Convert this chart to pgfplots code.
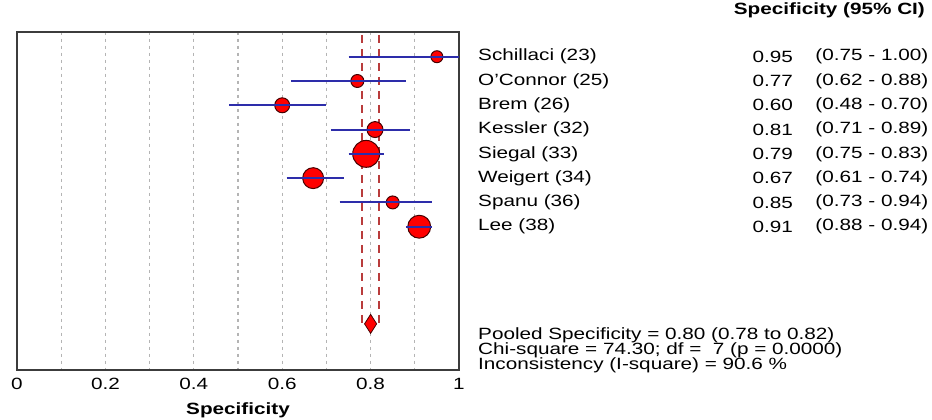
\documentclass[border=0pt]{standalone}
\usepackage{fontspec}
\setmainfont{Liberation Sans}[FakeStretch=1.27]
\setsansfont{Liberation Sans}[FakeStretch=1.27]
\usepackage{pgfplots}
\pgfplotsset{compat=1.18}
\definecolor{ciblue}{RGB}{45,45,170}
\definecolor{mkred}{RGB}{255,0,0}
\definecolor{mkedge}{RGB}{70,0,0}
\definecolor{poolred}{RGB}{185,60,60}
\definecolor{gridgray}{RGB}{180,180,180}
\definecolor{frame}{RGB}{60,60,60}
\newcommand\f{\fontsize{16.3bp}{19bp}\selectfont}
\pgfplotsset{
  study/.style={only marks, mark=*, mark options={fill=mkred, draw=mkedge, line width=1pt}, mark size=#1},
  ci/.style={ciblue, line width=2pt, mark=none},
}
\begin{document}
\begin{tikzpicture}
\useasboundingbox (0,0) rectangle (932bp,420bp);
\begin{axis}[
  clip mode=individual,
  at={(17bp,50bp)}, anchor=south west,
  scale only axis, width=442bp, height=338.3bp,
  xmin=0, xmax=1, ymin=-0.03, ymax=13.9, y dir=reverse,
  axis line style={draw=frame, line width=1.8pt},
  ytick=\empty,
  xtick={0,0.2,0.4,0.6,0.8,1},
  minor xtick={0.1,0.3,0.5,0.7,0.9},
  xmajorgrids, xminorgrids,
  major grid style={draw=gridgray, line width=1.1pt, dash pattern=on 3bp off 4bp},
  minor grid style={draw=gridgray, line width=1.1pt, dash pattern=on 3bp off 4bp},
  major tick length=0pt, minor tick length=0pt,
  /pgf/number format/assume math mode=true,
  xticklabel style={font=\f, yshift=-5bp},
  xlabel={\textbf{Specificity}},
  xlabel style={font=\f, at={(axis description cs:0.5,0)}, anchor=center, yshift=-40bp},
  clip=false,
]
% pooled CI dashed lines
\addplot[poolred, line width=2pt, dash pattern=on 8bp off 6bp, mark=none] coordinates {(0.78,0.1) (0.78,12) (0.7875,12)};
\addplot[poolred, line width=2pt, dash pattern=on 8bp off 6bp, mark=none] coordinates {(0.82,0.1) (0.82,12) (0.8125,12)};
% study markers (point estimates)
\addplot[study=6]    coordinates {(0.95,1)};
\addplot[study=6.5]  coordinates {(0.77,2)};
\addplot[study=7.5]  coordinates {(0.60,3)};
\addplot[study=8]    coordinates {(0.81,4)};
\addplot[study=13.5] coordinates {(0.79,5)};
\addplot[study=10.5] coordinates {(0.67,6)};
\addplot[study=6.5]  coordinates {(0.85,7)};
\addplot[study=11.5] coordinates {(0.91,8)};
% 95% CI lines
\addplot[ci] coordinates {(0.75,1) (1.00,1)};
\addplot[ci] coordinates {(0.62,2) (0.88,2)};
\addplot[ci] coordinates {(0.48,3) (0.70,3)};
\addplot[ci] coordinates {(0.71,4) (0.89,4)};
\addplot[ci] coordinates {(0.75,5) (0.83,5)};
\addplot[ci] coordinates {(0.61,6) (0.74,6)};
\addplot[ci] coordinates {(0.73,7) (0.94,7)};
\addplot[ci] coordinates {(0.88,8) (0.94,8)};
% pooled diamond
\addplot[only marks, mark=diamond*, mark size=9.5bp, mark options={fill=mkred, draw=mkedge, line width=0.8pt, xscale=0.85}]
  coordinates {(0.80,12)};
% text
\node[font=\f\bfseries, anchor=east] at (axis cs:2.062,-0.92) {Specificity (95\% CI)};
\node[font=\f, anchor=west, inner sep=0pt] at (axis cs:1.043,1) {Schillaci (23)};
\node[font=\f, anchor=west, inner sep=0pt] at (axis cs:1.043,2) {O'Connor (25)};
\node[font=\f, anchor=west, inner sep=0pt] at (axis cs:1.043,3) {Brem (26)};
\node[font=\f, anchor=west, inner sep=0pt] at (axis cs:1.043,4) {Kessler (32)};
\node[font=\f, anchor=west, inner sep=0pt] at (axis cs:1.043,5) {Siegal (33)};
\node[font=\f, anchor=west, inner sep=0pt] at (axis cs:1.043,6) {Weigert (34)};
\node[font=\f, anchor=west, inner sep=0pt] at (axis cs:1.043,7) {Spanu (36)};
\node[font=\f, anchor=west, inner sep=0pt] at (axis cs:1.043,8) {Lee (38)};
\node[font=\f, anchor=east, inner sep=0pt] at (axis cs:1.756,1) {0.95};
\node[font=\f, anchor=east, inner sep=0pt] at (axis cs:1.756,2) {0.77};
\node[font=\f, anchor=east, inner sep=0pt] at (axis cs:1.756,3) {0.60};
\node[font=\f, anchor=east, inner sep=0pt] at (axis cs:1.756,4) {0.81};
\node[font=\f, anchor=east, inner sep=0pt] at (axis cs:1.756,5) {0.79};
\node[font=\f, anchor=east, inner sep=0pt] at (axis cs:1.756,6) {0.67};
\node[font=\f, anchor=east, inner sep=0pt] at (axis cs:1.756,7) {0.85};
\node[font=\f, anchor=east, inner sep=0pt] at (axis cs:1.756,8) {0.91};
\node[font=\f, anchor=east, inner sep=0pt] at (axis cs:2.062,1) {(0.75 - 1.00)};
\node[font=\f, anchor=east, inner sep=0pt] at (axis cs:2.062,2) {(0.62 - 0.88)};
\node[font=\f, anchor=east, inner sep=0pt] at (axis cs:2.062,3) {(0.48 - 0.70)};
\node[font=\f, anchor=east, inner sep=0pt] at (axis cs:2.062,4) {(0.71 - 0.89)};
\node[font=\f, anchor=east, inner sep=0pt] at (axis cs:2.062,5) {(0.75 - 0.83)};
\node[font=\f, anchor=east, inner sep=0pt] at (axis cs:2.062,6) {(0.61 - 0.74)};
\node[font=\f, anchor=east, inner sep=0pt] at (axis cs:2.062,7) {(0.73 - 0.94)};
\node[font=\f, anchor=east, inner sep=0pt] at (axis cs:2.062,8) {(0.88 - 0.94)};
\node[font=\f, anchor=west, inner sep=0pt] at (axis cs:1.043,12.45) {Pooled Specificity = 0.80 (0.78 to 0.82)};
\node[font=\f, anchor=west, inner sep=0pt] at (axis cs:1.043,13.07) {Chi-square = 74.30; df =\ \ 7 (p = 0.0000)};
\node[font=\f, anchor=west, inner sep=0pt] at (axis cs:1.043,13.69) {Inconsistency (I-square) = 90.6 \%};
\end{axis}
\end{tikzpicture}
\end{document}
